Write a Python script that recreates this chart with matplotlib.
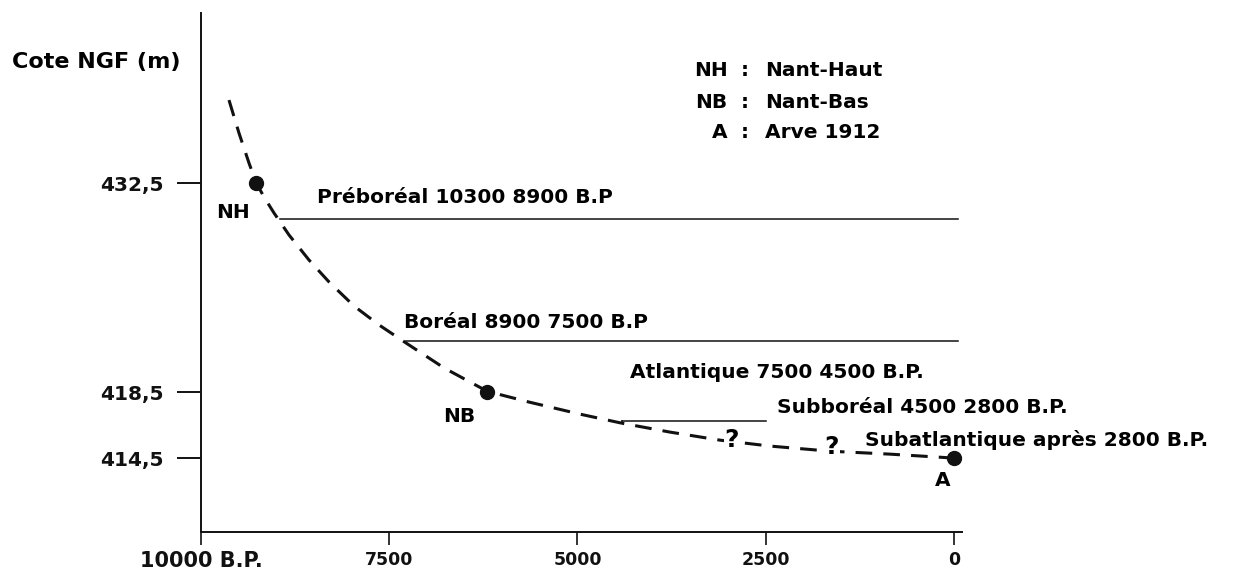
import numpy as np
import matplotlib
matplotlib.use('Agg')
import matplotlib.pyplot as plt

plt.rcParams['font.family'] = ['DejaVu Sans']
plt.rcParams['font.weight'] = 'bold'
plt.rcParams['lines.scale_dashes'] = False

# Dashed curve (age B.P., altitude NGF m)
curve_age = [9628, 9495, 9362, 9269, 9162, 9029, 8830, 8564, 8298, 7966, 7633, 7274,
             6769, 6197, 5638, 4973, 4415, 3777, 3112, 2447, 1649, 851, 0]
curve_alt = [438.06, 435.85, 433.84, 432.55, 431.56, 430.49, 429.02, 427.34, 425.87,
             424.26, 422.99, 421.78, 420.11, 418.55, 417.89, 417.17, 416.62, 416.08,
             415.59, 415.23, 414.92, 414.74, 414.5]

# Sites
site_names = ['NH', 'NB', 'A']
site_age = [9269, 6197, 0]
site_alt = [432.5, 418.5, 414.5]

# Period boundaries (horizontal lines): start age, end age, altitude
periods = ['Préboréal 10300 8900 B.P', 'Boréal 8900 7500 B.P',
           'Atlantique 7500 4500 B.P.', 'Subboréal 4500 2800 B.P.',
           'Subatlantique après 2800 B.P.']
line_start = [8950, 7280, 4415]
line_end = [-50, -50, 2490]
line_alt = [430.1, 421.95, 416.75]

legend_abbr = ['NH', 'NB', 'A']
legend_name = ['Nant-Haut', 'Nant-Bas', 'Arve 1912']

xticks = [10000, 7500, 5000, 2500, 0]
xtick_labels = ['10000 B.P.', '7500', '5000', '2500', '0']
yticks = [414.5, 418.5, 432.5]
ytick_labels = ['414,5', '418,5', '432,5']

# the original y axis is schematic (not linear): piecewise mapping
Y_KNOTS = [400, 414.5, 418.5, 432.5, 460]
H_KNOTS = [-128.25, 111, 177, 386, 796.6]


def fwd(v):
    return np.interp(v, Y_KNOTS, H_KNOTS)


def inv(h):
    return np.interp(h, H_KNOTS, Y_KNOTS)


fig = plt.figure(figsize=(12.39, 5.69), dpi=100)
ax = fig.add_axes([0.1622, 0.0650, 0.6142, 0.9121])
ax.set_yscale('function', functions=(fwd, inv))
ax.set_xlim(10000, -106)
ax.set_ylim(410.02, 443.89)

for s in ['top', 'right']:
    ax.spines[s].set_visible(False)
for s in ['left', 'bottom']:
    ax.spines[s].set_linewidth(1.4)
    ax.spines[s].set_color('#111111')

ax.plot(curve_age, curve_alt, color='#111111', lw=2.2, dashes=(12, 8))
ax.plot(site_age, site_alt, 'o', color='#111111', ms=10, ls='none', zorder=4)

for i in range(len(line_start)):
    ax.plot([line_start[i], line_end[i]], [line_alt[i], line_alt[i]],
            color='#111111', lw=1.1)
# small stub joining the subboreal line to the curve
ax.plot([line_start[2], line_start[2]], [416.62, line_alt[2]], color='#111111', lw=1.1)

fs = 14.5
label_pos = [(8459, 431.56), (7302, 423.19), (4309, 419.84), (2354, 417.55), (1184, 415.59)]
for name, (x, y) in zip(periods, label_pos):
    ax.text(x, y, name, ha='left', va='center', fontsize=fs, fontweight='bold')

site_label_pos = [(9576, 430.56), (6570, 417.05), (146, 413.17)]
for name, (x, y) in zip(site_names, site_label_pos):
    ax.text(x, y, name, ha='center', va='center', fontsize=fs, fontweight='bold')

for qx, qy in [(2953, 415.62), (1623, 415.17)]:
    ax.text(qx, qy, '?', ha='center', va='center', fontsize=18, fontweight='bold',
            bbox=dict(facecolor='white', edgecolor='none', pad=0.5), zorder=5)

legend_y = [440.07, 437.93, 435.92]
for abbr, name, y in zip(legend_abbr, legend_name, legend_y):
    ax.text(3006, y, abbr, ha='right', va='center', fontsize=fs, fontweight='bold')
    ax.text(2780, y, ':', ha='center', va='center', fontsize=fs, fontweight='bold')
    ax.text(2514, y, name, ha='left', va='center', fontsize=fs, fontweight='bold')

fig.text(12 / 1239, 1 - 62 / 569, 'Cote NGF (m)', ha='left', va='center',
         fontsize=16, fontweight='bold')

ax.set_xticks(xticks)
ax.set_xticklabels(xtick_labels)
ax.set_yticks(yticks)
ax.set_yticklabels(ytick_labels)
ax.minorticks_off()
ax.tick_params(axis='y', direction='out', length=17, width=1.4, pad=10,
               labelsize=fs, colors='#111111')
ax.tick_params(axis='x', direction='out', length=9.5, width=1.2, pad=4,
               labelsize=12.5, colors='#111111')
ax.get_xticklabels()[0].set_fontsize(15)

fig.savefig('out.png', dpi=100)
